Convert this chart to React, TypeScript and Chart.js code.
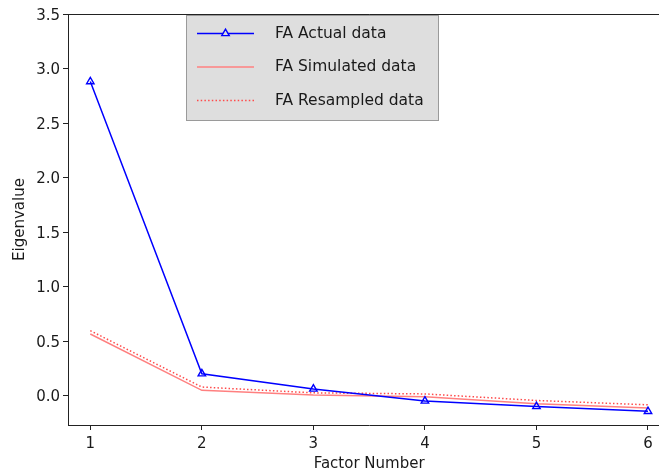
import React, { useEffect, useRef } from 'react';
import { Chart, registerables } from 'chart.js';

Chart.register(...registerables);

const factors = [1, 2, 3, 4, 5, 6];
const actualData = [2.88, 0.2, 0.06, -0.05, -0.1, -0.145];
const simulatedData = [0.565, 0.048, 0.005, -0.01, -0.075, -0.115];
const resampledData = [0.595, 0.078, 0.025, 0.015, -0.045, -0.085];
const xTickValues = [1, 2, 3, 4, 5, 6];
const yTickValues = [0, 0.5, 1, 1.5, 2, 2.5, 3, 3.5];
const legendLabels = ['FA Actual data', 'FA Simulated data', 'FA Resampled data'];
const xTitle = 'Factor Number';
const yTitle = 'Eigenvalue';

const FONT_FAMILY = '"DejaVu Sans", sans-serif';
const TEXT_COLOR = '#1a1a1a';
const AXIS_COLOR = '#222222';

const toPoints = (vals: number[]) => factors.map((x, i) => ({ x, y: vals[i] }));

const topSpinePlugin = {
  id: 'topSpine',
  afterDatasetsDraw(chart: any) {
    const { ctx, chartArea } = chart;
    ctx.save();
    ctx.strokeStyle = AXIS_COLOR;
    ctx.lineWidth = 1;
    ctx.beginPath();
    ctx.moveTo(chartArea.left, chartArea.top + 0.5);
    ctx.lineTo(chartArea.right, chartArea.top + 0.5);
    ctx.stroke();
    ctx.restore();
  },
};

const legendPlugin = {
  id: 'mplLegend',
  afterDraw(chart: any) {
    const { ctx, chartArea } = chart;
    const bx = chartArea.left + 118;
    const by = chartArea.top + 1;
    const bw = 253;
    const bh = 106;
    ctx.save();
    ctx.fillStyle = '#dedede';
    ctx.fillRect(bx, by, bw, bh);
    ctx.strokeStyle = '#9a9a9a';
    ctx.lineWidth = 1;
    ctx.strokeRect(bx + 0.5, by + 0.5, bw - 1, bh - 1);
    chart.data.datasets.forEach((ds: any, i: number) => {
      const y = by + 18.5 + i * 33.5;
      ctx.strokeStyle = ds.borderColor;
      ctx.lineWidth = ds.borderWidth;
      ctx.setLineDash(ds.borderDash || []);
      ctx.beginPath();
      ctx.moveTo(bx + 11, y);
      ctx.lineTo(bx + 68, y);
      ctx.stroke();
      ctx.setLineDash([]);
      if (ds.pointRadius > 0) {
        const cx = bx + 39.5;
        const r = ds.pointRadius;
        ctx.fillStyle = '#dedede';
        ctx.strokeStyle = ds.pointBorderColor;
        ctx.lineWidth = ds.pointBorderWidth;
        ctx.beginPath();
        for (let k = 0; k < 3; k++) {
          const a = -Math.PI / 2 + (k * 2 * Math.PI) / 3;
          const px = cx + Math.cos(a) * r;
          const py = y + Math.sin(a) * r;
          if (k === 0) ctx.moveTo(px, py);
          else ctx.lineTo(px, py);
        }
        ctx.closePath();
        ctx.fill();
        ctx.stroke();
      }
      ctx.fillStyle = TEXT_COLOR;
      ctx.font = `15.5px ${FONT_FAMILY}`;
      ctx.textBaseline = 'middle';
      ctx.textAlign = 'left';
      ctx.fillText(ds.label, bx + 89, y);
    });
    ctx.restore();
  },
};

export default function App() {
  const ref = useRef<HTMLCanvasElement>(null);

  useEffect(() => {
    const canvas = ref.current;
    if (!canvas) return;
    const font = { family: FONT_FAMILY, size: 15 };
    const chart = new Chart(canvas, {
      type: 'line',
      data: {
        datasets: [
          {
            label: legendLabels[0],
            data: toPoints(actualData),
            borderColor: '#0000ff',
            borderWidth: 1.5,
            pointStyle: 'triangle',
            pointRadius: 4.3,
            pointBorderColor: '#0000ff',
            pointBackgroundColor: 'rgba(0,0,0,0)',
            pointBorderWidth: 1.4,
            tension: 0,
            order: 0,
          },
          {
            label: legendLabels[1],
            data: toPoints(simulatedData),
            borderColor: '#ff8080',
            borderWidth: 1.5,
            pointRadius: 0,
            tension: 0,
            order: 1,
          },
          {
            label: legendLabels[2],
            data: toPoints(resampledData),
            borderColor: '#ff4a4a',
            borderWidth: 1.5,
            borderDash: [1.5, 2.2],
            pointRadius: 0,
            tension: 0,
            order: 2,
          },
        ],
      },
      options: {
        responsive: false,
        animation: false,
        devicePixelRatio: 1,
        layout: { padding: { left: 0, right: 0, top: 14, bottom: 0 } },
        plugins: {
          legend: { display: false },
          tooltip: { enabled: false },
        },
        scales: {
          x: {
            type: 'linear',
            min: 0.8,
            max: 6.2,
            afterBuildTicks: (s: any) => {
              s.ticks = xTickValues.map((v) => ({ value: v }));
            },
            afterFit: (s: any) => {
              s.height = 48;
            },
            ticks: {
              font,
              color: TEXT_COLOR,
              padding: 5,
              maxRotation: 0,
              callback: (v: any) => String(v),
            },
            grid: {
              drawOnChartArea: false,
              drawTicks: true,
              tickLength: 5,
              tickColor: AXIS_COLOR,
              tickWidth: 1,
            },
            border: { display: true, color: AXIS_COLOR, width: 1 },
            title: {
              display: true,
              text: xTitle,
              font,
              color: TEXT_COLOR,
              padding: { top: 0, bottom: 0 },
            },
          },
          y: {
            type: 'linear',
            min: -0.27,
            max: 3.5,
            afterBuildTicks: (s: any) => {
              s.ticks = yTickValues.map((v) => ({ value: v }));
            },
            afterFit: (s: any) => {
              s.width = 68;
            },
            ticks: {
              font,
              color: TEXT_COLOR,
              padding: 3,
              labelOffset: 2,
              callback: (v: any) => Number(v).toFixed(1),
            },
            grid: {
              drawOnChartArea: false,
              drawTicks: true,
              tickLength: 5,
              tickColor: AXIS_COLOR,
              tickWidth: 1,
            },
            border: { display: true, color: AXIS_COLOR, width: 1 },
            title: {
              display: true,
              text: yTitle,
              font,
              color: TEXT_COLOR,
              padding: { top: 11.5, bottom: 0 },
            },
          },
        },
      },
      plugins: [topSpinePlugin, legendPlugin],
    });
    return () => chart.destroy();
  }, []);

  return (
    <div
      style={{
        position: 'fixed',
        left: 0,
        top: 0,
        width: 659,
        height: 473,
        overflow: 'hidden',
        background: '#ffffff',
      }}
    >
      <canvas ref={ref} width={676} height={473} style={{ display: 'block' }} />
    </div>
  );
}
